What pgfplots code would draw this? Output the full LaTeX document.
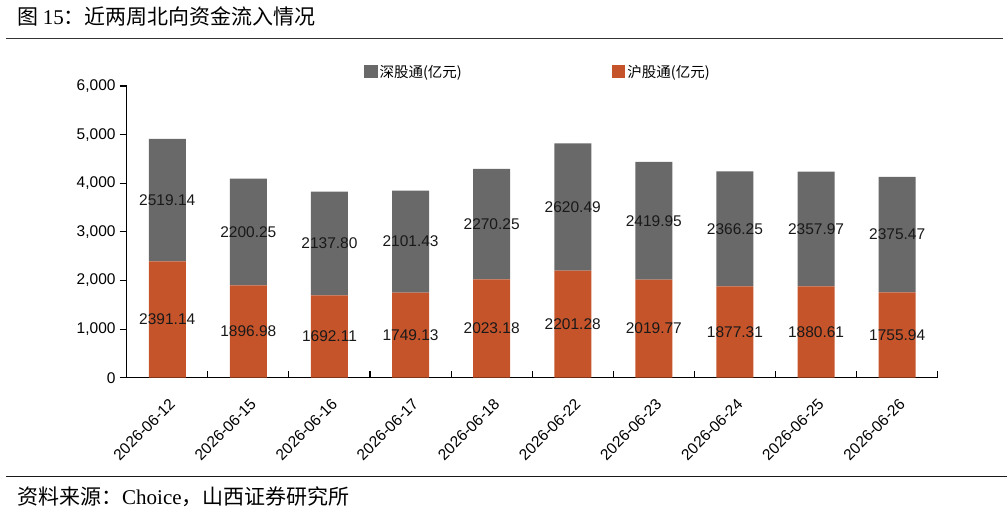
\documentclass[border=0pt]{standalone}
\usepackage{pgfplots}
\pgfplotsset{compat=1.18}
\usepackage{pgfplotstable}
\usepackage{fontspec}
\setmainfont{Liberation Sans}
\newfontfamily\cjk{Noto Sans CJK SC}
\newfontfamily\tnr{Liberation Serif}
\definecolor{szgray}{RGB}{105,105,105}
\definecolor{hured}{RGB}{197,84,43}

% 北向资金：沪股通 / 深股通（亿元）
\pgfplotstableread{
idx hu      sz
0   2391.14 2519.14
1   1896.98 2200.25
2   1692.11 2137.80
3   1749.13 2101.43
4   2023.18 2270.25
5   2201.28 2620.49
6   2019.77 2419.95
7   1877.31 2366.25
8   1880.61 2357.97
9   1755.94 2375.47
}\flows

\pgfplotsset{
  frame/.style={
    at={(126.7pt,139.3pt)}, anchor=south west,
    scale only axis, width=811pt, height=291.7pt,
    xmin=-0.5, xmax=9.5, ymin=0, ymax=6000,
    /pgf/number format/assume math mode=true,
  },
}

\begin{document}
\begin{tikzpicture}[x=1pt,y=1pt]
\path[use as bounding box] (0,0) rectangle (1007,517);
\draw[line width=1.2pt, black!80] (6,478.3) -- (1003,478.3);
\draw[line width=1.2pt, black!90] (6,40.3) -- (1007,40.3);
\node[anchor=west, inner sep=0pt] at (17,501) {\fontsize{21}{25}\selectfont\cjk 图 {\tnr 15}：近两周北向资金流入情况};
\node[anchor=west, inner sep=0pt] at (17,20) {\fontsize{21}{25}\selectfont\cjk 资料来源：{\tnr Choice}，山西证券研究所};

\begin{axis}[
  frame,
  ybar stacked, bar width=37pt,
  axis lines=left, axis line style={-, line width=1.2pt, black},
  tick align=inside, major tick length=7pt, minor tick length=7pt,
  tick style={line width=1.1pt, black},
  major x tick style={draw=none},
  major y tick style={xshift=-7pt},
  xtick={0,...,9},
  minor xtick={0.5,1.5,...,9.5},
  xticklabels={2026-06-12,2026-06-15,2026-06-16,2026-06-17,2026-06-18,2026-06-22,2026-06-23,2026-06-24,2026-06-25,2026-06-26},
  xticklabel style={font=\fontsize{15.5}{18}\selectfont, rotate=45, anchor=north east, inner sep=0pt, xshift=-13pt, yshift=-14.5pt},
  ytick={0,1000,...,6000},
  yticklabel style={font=\fontsize{15.5}{18}\selectfont, inner sep=0pt, xshift=-11pt},
  /pgf/number format/1000 sep={,},
  legend columns=2, reverse legend,
  legend image code/.code={\fill[#1] (0pt,-6.5pt) rectangle (13.5pt,7pt);},
  legend style={at={(0.507,1.048)}, anchor=center, draw=none, fill=none,
    font={\fontsize{14.5}{17}\selectfont\cjk},
    /tikz/every even column/.append style={column sep=148pt}},
]
\addplot[fill=hured, draw=none] table[x=idx, y=hu] {\flows};
\addlegendentry{沪股通(亿元)}
\addplot[fill=szgray, draw=none] table[x=idx, y=sz] {\flows};
\addlegendentry{深股通(亿元)}
\end{axis}

% value labels, centred in each segment
\begin{axis}[
  frame, hide axis,
  point meta=explicit,
  nodes near coords={\pgfmathprintnumber[fixed,fixed zerofill,precision=2,1000 sep={}]{\pgfplotspointmeta}},
  nodes near coords style={anchor=center, font=\fontsize{15.5}{18}\selectfont, text=black!90},
]
\addplot[draw=none, mark=none] table[x=idx, y expr=\thisrow{hu}/2, meta=hu] {\flows};
\addplot[draw=none, mark=none] table[x=idx, y expr=\thisrow{hu}+\thisrow{sz}/2, meta=sz] {\flows};
\end{axis}
\end{tikzpicture}
\end{document}
